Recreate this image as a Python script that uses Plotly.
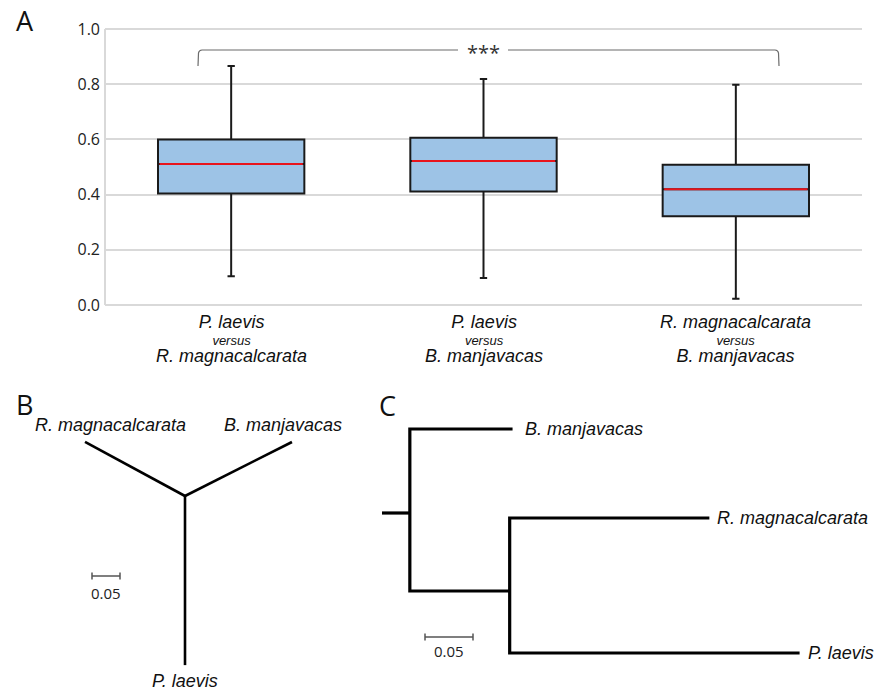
import math
import plotly.graph_objects as go

# ---------------- data ----------------
# Panel A: box plot summary statistics
comparisons_top = ["P. laevis", "P. laevis", "R. magnacalcarata"]
comparisons_bottom = ["R. magnacalcarata", "B. manjavacas", "B. manjavacas"]
upper_fence = [0.866, 0.819, 0.798]
q3_vals = [0.600, 0.606, 0.508]
median_vals = [0.511, 0.522, 0.419]
q1_vals = [0.404, 0.411, 0.322]
lower_fence = [0.104, 0.098, 0.023]
y_ticks = [0.0, 0.2, 0.4, 0.6, 0.8, 1.0]
y_tick_labels = ["0.0", "0.2", "0.4", "0.6", "0.8", "1.0"]
significance = "***"

# Panel B: unrooted tree branch lengths
taxa_b = ["R. magnacalcarata", "B. manjavacas", "P. laevis"]
branch_b = [0.203, 0.214, 0.302]

# Panel C: rooted tree branch lengths
root_stub = 0.029
branch_bman = 0.107
branch_internal = 0.104
branch_rmag = 0.208
branch_plaevis = 0.302
scale_len = 0.05
scale_label = "0.05"

# ---------------- layout helpers ----------------
W, H = 882, 692
def px(x):
    return x / W
def py(y):
    return 1 - y / H

LABEL_FONT = "Liberation Sans, Arial, sans-serif"
NUM_FONT = "Open Sans, sans-serif"

fig = go.Figure()

# ---------------- Panel A ----------------
xs = list(range(len(median_vals)))
box_w = 0.58
fig.add_trace(go.Box(
    x=xs, q1=q1_vals, median=median_vals, q3=q3_vals,
    lowerfence=lower_fence, upperfence=upper_fence,
    width=box_w, whiskerwidth=0.05, fillcolor="#9DC3E6",
    line=dict(color="#1a1a1a", width=2), boxpoints=False,
    showlegend=False, xaxis="x", yaxis="y", hoverinfo="skip"))

mx, my = [], []
for i, m in zip(xs, median_vals):
    mx += [i - box_w / 2 + 0.006, i + box_w / 2 - 0.006, None]
    my += [m, m, None]
fig.add_trace(go.Scatter(x=mx, y=my, mode="lines",
                         line=dict(color="#e8141c", width=2),
                         showlegend=False, xaxis="x", yaxis="y", hoverinfo="skip"))

# Panel A axes
ya_lo, ya_hi = -0.01, 1.01
pxu = 276.0
dom_bot = 305 + 0.01 * pxu
dom_top = 29 - 0.01 * pxu
layout_axes = dict(
    xaxis=dict(domain=[px(105), px(862)], range=[-0.5, 2.5], showgrid=False, automargin=False,
               zeroline=False, showticklabels=False, showline=False, fixedrange=True),
    yaxis=dict(domain=[py(dom_bot), py(dom_top)], range=[ya_lo, ya_hi], automargin=False,
               tickvals=y_ticks, ticktext=y_tick_labels, showgrid=True,
               gridcolor="#d9d9d9", gridwidth=2, zeroline=False, showline=False,
               ticks="", ticklabelstandoff=4, fixedrange=True,
               tickfont=dict(family=NUM_FONT, size=16, color="#222222")),
)

shapes = []
annotations = []

def ann(**kw):
    kw.setdefault("showarrow", False)
    kw.setdefault("xanchor", "center")
    kw.setdefault("yanchor", "middle")
    annotations.append(kw)

# left axis line of panel A
shapes.append(dict(type="line", xref="paper", yref="y", x0=px(105), x1=px(105),
                   y0=0, y1=1.0, line=dict(color="#d9d9d9", width=2)))

# significance bracket
br_col = "#6b6b6b"
shapes.append(dict(type="path", xref="paper", yref="paper",
                   path=f"M {px(198)},{py(66)} L {px(198.5)},{py(53)} Q {px(199)},{py(50)} {px(202)},{py(50)} L {px(458)},{py(50)}",
                   line=dict(color=br_col, width=1.2)))
shapes.append(dict(type="path", xref="paper", yref="paper",
                   path=f"M {px(508)},{py(50)} L {px(775)},{py(50)} Q {px(778)},{py(50)} {px(778.5)},{py(53)} L {px(779)},{py(66)}",
                   line=dict(color=br_col, width=1.2)))
ann(x=px(483), y=py(53), xref="paper", yref="paper", text=significance,
    font=dict(family=NUM_FONT, size=20, color="#333333"))

# category labels (three lines: top / versus / bottom)
for i, (t, b) in enumerate(zip(comparisons_top, comparisons_bottom)):
    txt = (f"<span style='font-size:18px'><i>{t}</i></span><br>"
           f"<i>versus</i><br>"
           f"<span style='font-size:18px'><i>{b}</i></span>")
    ann(x=i, y=py(339), xref="x", yref="paper", text=txt,
        font=dict(family=LABEL_FONT, size=13, color="#111"))

# ---------------- Panel B (unrooted tree) ----------------
sB = 560.0  # px per unit
angles_b = [151.6, 26.8, -90.0]
tips_b = []
for L, a in zip(branch_b, angles_b):
    tips_b.append((L * math.cos(math.radians(a)), L * math.sin(math.radians(a))))
bx, by = [], []
for (tx, ty) in tips_b:
    bx += [0, tx, None]
    by += [0, ty, None]
fig.add_trace(go.Scatter(x=bx, y=by, mode="lines", line=dict(color="black", width=2.6),
                         showlegend=False, xaxis="x2", yaxis="y2", hoverinfo="skip"))
# scale bar B
sbx0 = (92 - 185) / sB
sby = (496 - 576) / sB
cap = 3.5 / sB
fig.add_trace(go.Scatter(
    x=[sbx0, sbx0, None, sbx0, sbx0 + scale_len, None, sbx0 + scale_len, sbx0 + scale_len],
    y=[sby - cap, sby + cap, None, sby, sby, None, sby - cap, sby + cap],
    mode="lines", line=dict(color="#555555", width=1.5),
    showlegend=False, xaxis="x2", yaxis="y2", hoverinfo="skip"))
ann(x=sbx0 + scale_len / 2, y=(496 - 593) / sB, xref="x2", yref="y2",
    text=scale_label, font=dict(family=NUM_FONT, size=15, color="#222"))
label_off_b = [(25, 5, "bottom"), (-9, 5, "bottom"), (0, -4, "top")]
for name, (tx, ty), (xs_, ys_, anc) in zip(taxa_b, tips_b, label_off_b):
    ann(x=tx, y=ty, xref="x2", yref="y2", text=f"<i>{name}</i>",
        xshift=xs_, yshift=ys_, yanchor=anc,
        font=dict(family=LABEL_FONT, size=18, color="#111"))

layout_axes["xaxis2"] = dict(domain=[0, px(370)], range=[-185 / sB, 185 / sB], visible=False,
                             fixedrange=True, automargin=False)
layout_axes["yaxis2"] = dict(domain=[0, py(380)], range=[-(692 - 496) / sB, (496 - 380) / sB],
                             visible=False, fixedrange=True, automargin=False)

# ---------------- Panel C (rooted tree) ----------------
sC = 960.0
row_bman, row_rmag, row_plae = 429, 518, 653
row_root, row_int = 513, 591
root_x = root_stub
int_x = root_x + branch_internal
bman_x = root_x + branch_bman
rmag_x = int_x + branch_rmag
plae_x = int_x + branch_plaevis

cx = [0, root_x, None,
      bman_x, root_x, root_x, int_x, None,
      rmag_x, int_x, int_x, plae_x]
cy = [row_root, row_root, None,
      row_bman, row_bman, row_int, row_int, None,
      row_rmag, row_rmag, row_plae, row_plae]
fig.add_trace(go.Scatter(x=cx, y=cy, mode="lines", line=dict(color="black", width=3.2),
                         showlegend=False, xaxis="x3", yaxis="y3", hoverinfo="skip"))
# scale bar C
scx0 = (425 - 382) / sC
scy = 637
fig.add_trace(go.Scatter(
    x=[scx0, scx0, None, scx0, scx0 + scale_len, None, scx0 + scale_len, scx0 + scale_len],
    y=[scy - 3.5, scy + 3.5, None, scy, scy, None, scy - 3.5, scy + 3.5],
    mode="lines", line=dict(color="#555555", width=1.5),
    showlegend=False, xaxis="x3", yaxis="y3", hoverinfo="skip"))
ann(x=scx0 + scale_len / 2, y=651, xref="x3", yref="y3",
    text=scale_label, font=dict(family=NUM_FONT, size=15, color="#222"))
for name, tx, ty, sh in [("B. manjavacas", bman_x, row_bman, 10),
                         ("R. magnacalcarata", rmag_x, row_rmag, 6),
                         ("P. laevis", plae_x, row_plae, 6)]:
    ann(x=tx, y=ty, xref="x3", yref="y3", text=f"<i>{name}</i>",
        xanchor="left", xshift=sh,
        font=dict(family=LABEL_FONT, size=18, color="#111"))

layout_axes["xaxis3"] = dict(domain=[px(370), 1], range=[(370 - 382) / sC, (882 - 382) / sC],
                             visible=False, fixedrange=True, automargin=False)
layout_axes["yaxis3"] = dict(domain=[0, py(380)], range=[692, 380], visible=False,
                             fixedrange=True, automargin=False)

# panel letters
for letter, lx, ly in [("A", 25, 20), ("B", 24, 404), ("C", 387, 405)]:
    ann(x=px(lx), y=py(ly), xref="paper", yref="paper", text=letter,
        font=dict(family=NUM_FONT, size=27, color="#111"))

fig.update_layout(width=W, height=H, margin=dict(l=0, r=0, t=0, b=0, pad=0, autoexpand=False),
                  paper_bgcolor="white", plot_bgcolor="white",
                  shapes=shapes, annotations=annotations, showlegend=False,
                  **layout_axes)

fig.write_html("out.html", post_script="document.body.style.margin='0';",
               config={"displayModeBar": False})
